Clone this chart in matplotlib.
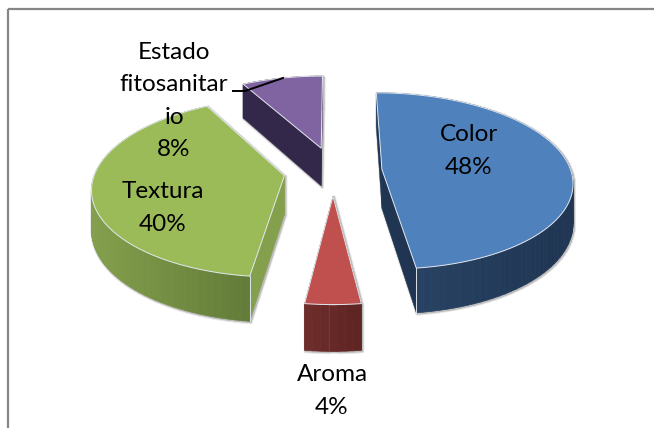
import numpy as np
import matplotlib
matplotlib.use("Agg")
import matplotlib.pyplot as plt
from matplotlib.colors import to_rgb

labels = ["Color", "Aroma", "Textura", "Estado\nfitosanitar\nio"]
values = [48, 4, 40, 8]
top_colors = ["#4f81bd", "#c0504d", "#9bbb59", "#8064a2"]
wall_dark = ["#1f3552", "#5e2523", "#5c7435", "#33284a"]
wall_light = ["#2b4668", "#702e2c", "#84a04c", "#33284a"]
label_xy = [(469, 151), (332, 391), (163, 208), (174, 101)]

# projection parameters (pixels)
XC, YC, RX, RY, KP, EX, EY, H0 = 333, 171, 189, 87, 0.13, 0.26, 0.28, 39


def project(X, Y, drop=0.0):
    w = 1 + KP * Y
    return XC + RX * X / w, YC - (RY * Y - drop) / w


fig = plt.figure(figsize=(6.54, 4.28), dpi=100)
ax = fig.add_axes([0, 0, 1, 1])
ax.set_xlim(0, 654)
ax.set_ylim(428, 0)
ax.axis("off")
plt.rcParams["font.family"] = ["Lato", "DejaVu Sans"]

# chart frame
ax.plot([7.5, 7.5], [428, 8.5], color="#868686", lw=1.6, solid_capstyle="butt")
ax.plot([7.5, 654], [8.5, 8.5], color="#868686", lw=1.6, solid_capstyle="butt")

fr = np.array(values) / sum(values)
ends = np.cumsum(fr) * 2 * np.pi
starts = ends - fr * 2 * np.pi
order = [3, 0, 2, 1]

for i in order:
    a0, a1 = starts[i], ends[i]
    mid = (a0 + a1) / 2
    ox, oy = EX * np.sin(mid), EY * np.cos(mid)
    th = np.linspace(a0, a1, max(int(np.degrees(a1 - a0) / 2), 8))
    OX = ox + np.sin(th)
    OY = oy + np.cos(th)
    # closed slice outline on the pie plane
    PX = np.r_[ox, OX]
    PY = np.r_[oy, OY]
    tx, ty = project(PX, PY)
    bx, by = project(PX, PY, H0)

    # soft shadow
    for grow, col in ((2.6, "#e6e6e6"), (1.2, "#bdbdbd")):
        for j in range(len(tx)):
            k = (j + 1) % len(tx)
            ax.fill([tx[j] + 1, tx[k] + 1, bx[k] + 1, bx[j] + 1],
                    [ty[j] + 1, ty[k] + 1, by[k] + 1, by[j] + 1],
                    color=col, lw=grow, zorder=1, joinstyle="round")

    # walls
    z = 2 + order.index(i)
    d, l = np.array(to_rgb(wall_dark[i])), np.array(to_rgb(wall_light[i]))
    xmin, xmax = tx.min(), tx.max()
    # radial walls
    for j, k in ((0, 1), (-1, 0)):
        ax.fill([tx[j], tx[k], bx[k], bx[j]], [ty[j], ty[k], by[k], by[j]],
                color=wall_light[i] if i == 2 else wall_dark[i], lw=0.3, zorder=z,
                joinstyle="round")
    # outer wall split into strips for the shading
    for j in range(1, len(tx) - 1):
        t = 1 - (tx[j] - xmin) / max(xmax - xmin, 1)
        c = d + (l - d) * t
        ax.fill([tx[j], tx[j + 1], bx[j + 1], bx[j]],
                [ty[j], ty[j + 1], by[j + 1], by[j]], color=c, lw=0.5, zorder=z,
                joinstyle="round")
    # top
    ax.fill(tx, ty, facecolor=top_colors[i], edgecolor="#e3e8ee", lw=0.7, zorder=z + 0.5,
            joinstyle="round")
    # highlight on the nearest vertical corner
    n = int(np.argmax(ty))
    if i in (0, 2):
        ax.plot([tx[n], bx[n]], [ty[n], by[n]], color="#dde2e8", lw=0.7, zorder=z + 0.6)

    ax.text(*label_xy[i], f"{labels[i]}\n{values[i]}%", ha="center", va="center",
            fontsize=17.5, color="black", linespacing=1.67, zorder=20)

# leader line of the last label
ax.plot([233, 245, 283], [91, 91, 78], color="black", lw=1.4, zorder=21)

fig.savefig("out.png", dpi=100)
